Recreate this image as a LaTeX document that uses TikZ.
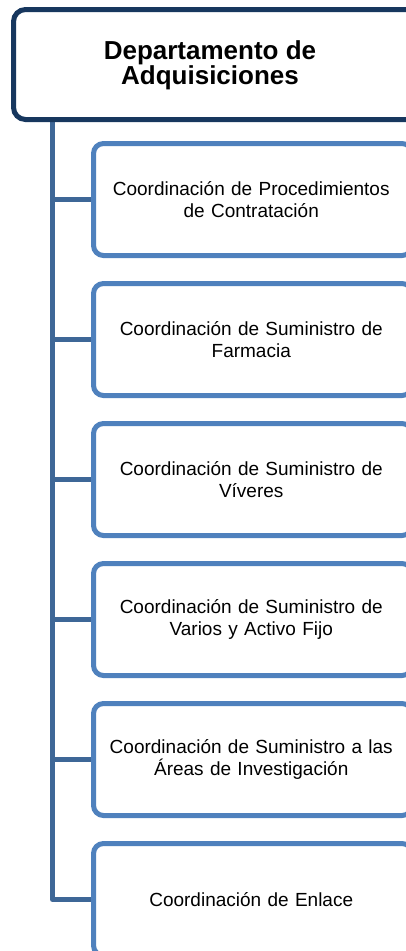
\documentclass[tikz,border=0pt]{standalone}
\usepackage{fontspec}
\setmainfont{Liberation Sans}
\usetikzlibrary{backgrounds}
\definecolor{navy}{RGB}{23,55,94}
\definecolor{linkblue}{RGB}{62,103,151}
\definecolor{boxblue}{RGB}{79,129,189}
\begin{document}
\begin{tikzpicture}[x=1pt,y=-1pt,
  topbox/.style={draw=navy,line width=5pt,rounded corners=12pt,fill=white,
    minimum width=416.5pt,minimum height=110pt,inner sep=0pt},
  titletext/.style={align=center,inner sep=0pt,font=\fontsize{26}{25}\selectfont\bfseries},
  childbox/.style={draw=boxblue,line width=5pt,rounded corners=10pt,fill=white,
    minimum width=318.5pt,minimum height=112pt,inner sep=0pt,align=center,
    text width=300pt,font=\fontsize{19}{22}\selectfont},
  link/.style={draw=linkblue,line width=5pt,line join=round}]
\useasboundingbox (0,0) rectangle (406,951);
\clip (0,0) rectangle (406,951);
\node[topbox] (top) at (221.75,64.5) {};
\node[titletext] (title) at (210,65) {Departamento de\\Adquisiciones};
\node[childbox] (c1) at (252.75,199.5) {\hspace*{-3pt}Coordinación de Procedimientos\\\hspace*{-3pt}de Contratación};
\node[childbox] (c2) at (252.75,339.5) {\hspace*{-3pt}Coordinación de Suministro de\\\hspace*{-3pt}Farmacia};
\node[childbox] (c3) at (252.75,479.5) {\hspace*{-3pt}Coordinación de Suministro de\\\hspace*{-3pt}Víveres};
\node[childbox] (c4) at (252.75,619.5) {\hspace*{-3pt}Coordinación de Suministro de\\\hspace*{-3pt}Varios y Activo Fijo};
\node[childbox] (c5) at (252.75,759.5) {\hspace*{-3pt}Coordinación de Suministro a las\\\hspace*{-3pt}Áreas de Investigación};
\node[childbox] (c6) at (252.75,899.5) {\hspace*{-3pt}Coordinación de Enlace};
\coordinate (trunk) at (52.5,119.5);
\begin{scope}[on background layer]
  \draw[link] (trunk) |- (c6.west);
  \foreach \c in {c1,c2,c3,c4,c5}
    \draw[link] (trunk |- \c.west) -- (\c.west);
\end{scope}
\end{tikzpicture}
\end{document}
